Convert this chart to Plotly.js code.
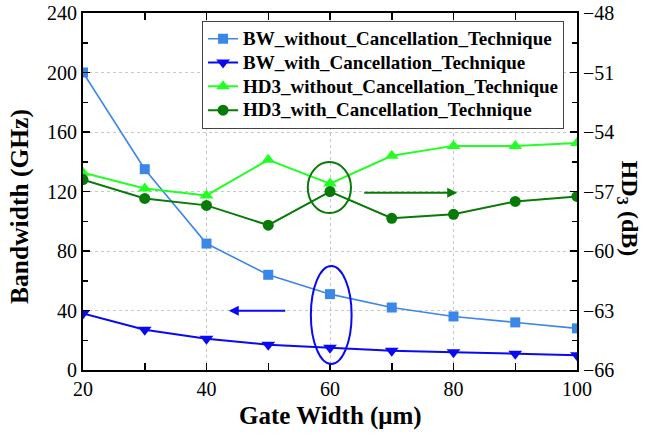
<!DOCTYPE html>
<html>
<head>
<meta charset="utf-8">
<script src="https://cdn.plot.ly/plotly-3.0.1.min.js"></script>
<style>html,body{margin:0;padding:0;background:#fff;}#chart{width:645px;height:435px;}</style>
</head>
<body>
<div id="chart"></div>
<script>
const gateWidth = [20, 30, 40, 50, 60, 70, 80, 90, 100];
const bwWithout = [200, 135, 85, 64, 51, 42, 36, 32, 28];
const bwWith = [38, 27, 21, 17, 15, 13, 12, 11, 10];
const hd3Without = [-56.05, -56.85, -57.2, -55.4, -56.6, -55.2, -54.7, -54.7, -54.55];
const hd3With = [-56.4, -57.35, -57.7, -58.7, -57.0, -58.35, -58.15, -57.5, -57.25];
const seriesNames = ['BW_without_Cancellation_Technique', 'BW_with_Cancellation_Technique',
  'HD3_without_Cancellation_Technique', 'HD3_with_Cancellation_Technique'];
const xTitle = 'Gate Width (μm)';
const yTitle = 'Bandwidth (GHz)';
const y2Title = 'HD<sub>3</sub> (dB)';

const F = '"Liberation Serif", "Times New Roman", Times, serif';
const cBWo = '#3b87e8', cBWw = '#0a0af2', cHo = '#22ff22', cHw = '#087a08';
const legName = n => '<span style="font-size:19px">' + n + '</span>';

const traces = [
  {x: gateWidth, y: bwWithout, name: legName(seriesNames[0]), mode: 'lines+markers', yaxis: 'y',
   line: {color: cBWo, width: 1.6}, marker: {symbol: 'square', size: 10, color: cBWo}},
  {x: gateWidth, y: bwWith, name: legName(seriesNames[1]), mode: 'lines+markers', yaxis: 'y',
   line: {color: cBWw, width: 2}, marker: {symbol: 'triangle-down', size: 12, color: cBWw}},
  {x: gateWidth, y: hd3Without, name: legName(seriesNames[2]), mode: 'lines+markers', yaxis: 'y2',
   line: {color: cHo, width: 2}, marker: {symbol: 'triangle-up', size: 12, color: cHo}},
  {x: gateWidth, y: hd3With, name: legName(seriesNames[3]), mode: 'lines+markers', yaxis: 'y2',
   line: {color: cHw, width: 2}, marker: {symbol: 'circle', size: 11, color: cHw}}
];

const axisCommon = {
  showline: true, linecolor: '#000', linewidth: 2, ticks: 'inside', ticklen: 7, tickwidth: 1.5,
  tickcolor: '#000', tickfont: {family: F, size: 20, color: '#000'}, zeroline: false
};

const layout = {
  width: 645, height: 435,
  margin: {l: 83, r: 68, t: 13, b: 65},
  paper_bgcolor: '#fff', plot_bgcolor: '#fff',
  font: {family: F},
  showlegend: true,
  legend: {x: 0.241, y: 0.978, xanchor: 'left', yanchor: 'top', bgcolor: '#fff',
    bordercolor: '#444', borderwidth: 1, font: {family: F, size: 16, color: '#000', weight: 'bold'},
    tracegroupgap: 0},
  xaxis: Object.assign({}, axisCommon, {range: [20, 100], dtick: 20, tick0: 20, mirror: 'allticks',
    showgrid: true, gridcolor: '#c8c8c8', griddash: '3px,3px', gridwidth: 1,
    minor: {dtick: 10, ticks: 'inside', ticklen: 5, tickcolor: '#000', tickwidth: 1.5, showgrid: false}}),
  yaxis: Object.assign({}, axisCommon, {range: [0, 240], dtick: 40, tick0: 0,
    showgrid: true, gridcolor: '#c8c8c8', griddash: '3px,3px', gridwidth: 1,
    minor: {dtick: 20, ticks: 'inside', ticklen: 5, tickcolor: '#000', tickwidth: 1.5, showgrid: false}}),
  yaxis2: Object.assign({}, axisCommon, {range: [-66, -48], dtick: 3, tick0: -66, overlaying: 'y', side: 'right',
    showgrid: false,
    minor: {dtick: 1.5, ticks: 'inside', ticklen: 5, tickcolor: '#000', tickwidth: 1.5, showgrid: false}}),
  shapes: [
    {type: 'circle', xref: 'x', yref: 'y', x0: 56.4, x1: 63.4, y0: 105.5, y1: 139.8,
     line: {color: cHw, width: 2}},
    {type: 'circle', xref: 'x', yref: 'y', x0: 56.9, x1: 63.5, y0: 4.0, y1: 69.9,
     line: {color: cBWw, width: 2}}
  ],
  annotations: [
    {x: 80.6, y: 119.2, ax: 65.3, ay: 119.2, xref: 'x', yref: 'y', axref: 'x', ayref: 'y',
     text: '', showarrow: true, arrowhead: 2, arrowsize: 1, arrowwidth: 2, arrowcolor: cHw},
    {x: 43.6, y: 39.9, ax: 53.0, ay: 39.9, xref: 'x', yref: 'y', axref: 'x', ayref: 'y',
     text: '', showarrow: true, arrowhead: 2, arrowsize: 1, arrowwidth: 2, arrowcolor: cBWw},
    {x: -0.13, y: 0.459, xref: 'paper', yref: 'paper', text: '<b>' + yTitle + '</b>', textangle: -90,
     showarrow: false, font: {family: F, size: 25.5, color: '#000'}, xanchor: 'center', yanchor: 'middle'},
    {x: 1.104, y: 0.451, xref: 'paper', yref: 'paper', text: '<b>' + y2Title + '</b>', textangle: 90,
     showarrow: false, font: {family: F, size: 24, color: '#000'}, xanchor: 'center', yanchor: 'middle'},
    {x: 0.502, y: -0.129, xref: 'paper', yref: 'paper', text: '<b>' + xTitle + '</b>',
     showarrow: false, font: {family: F, size: 25, color: '#000'}, xanchor: 'center', yanchor: 'middle'}
  ]
};

Plotly.newPlot('chart', traces, layout, {displayModeBar: false, staticPlot: true});
</script>
</body>
</html>
